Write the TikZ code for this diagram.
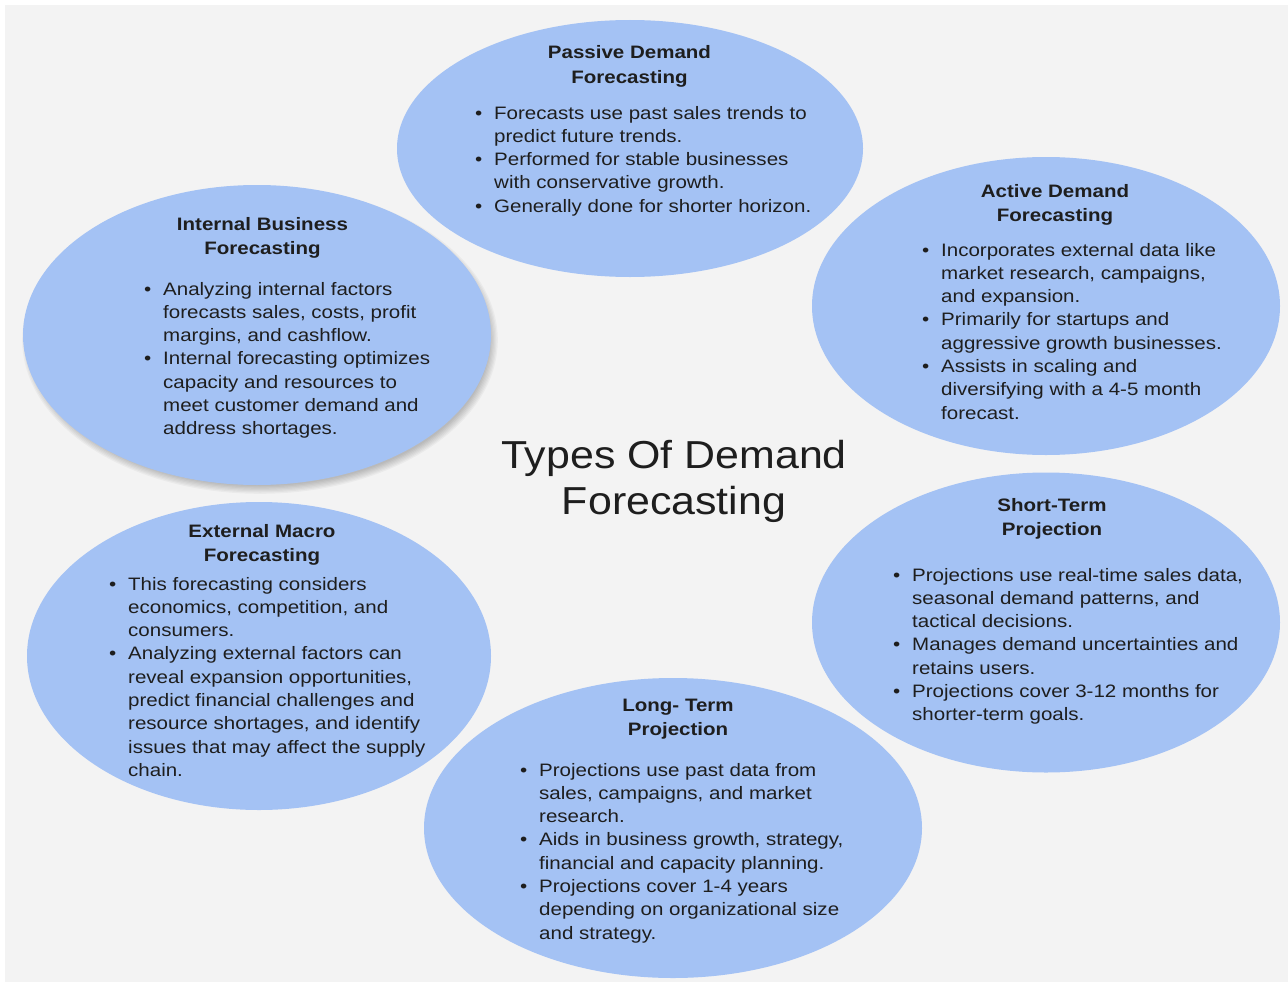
\documentclass[tikz,border=0pt]{standalone}
\usepackage{fontspec}
\setmainfont{Liberation Sans}[FakeStretch=1.14]
\newfontfamily\bigfont{Liberation Sans}[FakeStretch=1.1]
\usetikzlibrary{shapes.geometric}

\definecolor{pagebg}{HTML}{F3F3F3}
\definecolor{blobblue}{HTML}{A4C2F4}
\definecolor{ink}{HTML}{1E1E1E}

% bullet hung to the left of a list line
\newcommand{\bul}{\llap{\textbullet\hspace{12pt}}}
\newcommand{\lines}[1]{\begin{tabular}[t]{@{}l@{}}#1\end{tabular}}
\newcommand{\clines}[1]{\begin{tabular}[t]{@{}c@{}}#1\end{tabular}}

\tikzset{
  blob/.style={ellipse, fill=blobblue, draw=none, inner sep=0pt},
  body/.style={anchor=base west, inner sep=0pt, text=ink,
    font=\fontsize{18}{23.3}\selectfont},
  head/.style={anchor=base, inner sep=0pt, text=ink,
    font=\fontsize{18}{24.5}\selectfont\bfseries},
  maintitle/.style={anchor=base, inner sep=0pt, text=ink,
    font=\bigfont\fontsize{39}{46}\selectfont},
}

\begin{document}
\begin{tikzpicture}[x=1pt, y=-1pt]
  \useasboundingbox (0,0) rectangle (1288,982);
  \fill[white] (0,0) rectangle (1288,982);
  \fill[pagebg] (5,5) rectangle (1288,982);

  % soft shadow under the internal business ellipse
  \foreach \k in {0,...,6}
    \fill[black, opacity=0.035] (260,340)
      ellipse [x radius={230pt+\k*1.3pt}, y radius={146pt+\k*1.3pt}];

  % ellipses
  \node[blob, minimum width=466pt, minimum height=257pt] (passive)  at (630,148.5) {};
  \node[blob, minimum width=468pt, minimum height=298pt] (active)   at (1046,306) {};
  \node[blob, minimum width=468pt, minimum height=300pt] (internal) at (257,335) {};
  \node[blob, minimum width=464pt, minimum height=308pt] (external) at (259,656) {};
  \node[blob, minimum width=468pt, minimum height=300pt] (short)    at (1046,622.5) {};
  \node[blob, minimum width=498pt, minimum height=300pt] (long)     at (673,828) {};

  % centre title
  \node[maintitle] (title) at (674,468) {\clines{Types Of Demand\\Forecasting}};

  % passive demand forecasting
  \node[head] (passiveH) at (629.5,59) {\clines{Passive Demand\\Forecasting}};
  \node[body] (passiveB) at (494,119) {\lines{%
    \bul Forecasts use past sales trends to\\
    predict future trends.\\
    \bul Performed for stable businesses\\
    with conservative growth.\\
    \bul Generally done for shorter horizon.}};

  % active demand forecasting
  \node[head] (activeH) at (1055,197) {\clines{Active Demand\\Forecasting}};
  \node[body] (activeB) at (941,256) {\lines{%
    \bul Incorporates external data like\\
    market research, campaigns,\\
    and expansion.\\
    \bul Primarily for startups and\\
    aggressive growth businesses.\\
    \bul Assists in scaling and\\
    diversifying with a 4-5 month\\
    forecast.}};

  % internal business forecasting
  \node[head] (internalH) at (262.5,230) {\clines{Internal Business\\Forecasting}};
  \node[body] (internalB) at (163,295) {\lines{%
    \bul Analyzing internal factors\\
    forecasts sales, costs, profit\\
    margins, and cashflow.\\
    \bul Internal forecasting optimizes\\
    capacity and resources to\\
    meet customer demand and\\
    address shortages.}};

  % external macro forecasting
  \node[head] (externalH) at (262,537) {\clines{External Macro\\Forecasting}};
  \node[body] (externalB) at (128,590) {\lines{%
    \bul This forecasting considers\\
    economics, competition, and\\
    consumers.\\
    \bul Analyzing external factors can\\
    reveal expansion opportunities,\\
    predict financial challenges and\\
    resource shortages, and identify\\
    issues that may affect the supply\\
    chain.}};

  % short-term projection
  \node[head] (shortH) at (1052,511) {\clines{Short-Term\\Projection}};
  \node[body] (shortB) at (912,581) {\lines{%
    \bul Projections use real-time sales data,\\
    seasonal demand patterns, and\\
    tactical decisions.\\
    \bul Manages demand uncertainties and\\
    retains users.\\
    \bul Projections cover 3-12 months for\\
    shorter-term goals.}};

  % long-term projection
  \node[head] (longH) at (678,711) {\clines{Long- Term\\Projection}};
  \node[body] (longB) at (539,776) {\lines{%
    \bul Projections use past data from\\
    sales, campaigns, and market\\
    research.\\
    \bul Aids in business growth, strategy,\\
    financial and capacity planning.\\
    \bul Projections cover 1-4 years\\
    depending on organizational size\\
    and strategy.}};
\end{tikzpicture}
\end{document}
